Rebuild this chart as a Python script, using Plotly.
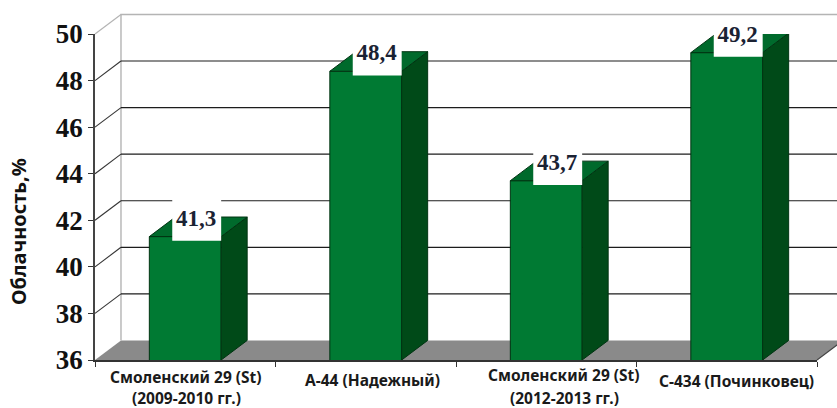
import plotly.graph_objects as go

# ---- data ----
categories = ["Смоленский 29 (St) (2009-2010 гг.)", "А-44 (Надежный)",
              "Смоленский 29 (St) (2012-2013 гг.)", "С-434 (Починковец)"]
category_lines = [["Смоленский 29 (St)", "(2009-2010 гг.)"], ["А-44 (Надежный)"],
                  ["Смоленский 29 (St)", "(2012-2013 гг.)"], ["С-434 (Починковец)"]]
values = [41.3, 48.4, 43.7, 49.2]
value_labels = ["41,3", "48,4", "43,7", "49,2"]
y_ticks = [36, 38, 40, 42, 44, 46, 48, 50]
y_title = "Облачность,%"

# ---- layout of the plotted box inside the 837x408 page (pixels) ----
W, H = 837, 408
PX_L, PX_R, PX_T, PX_B = 95, 817, 34, 360

# ---- style / projection ----
FRONT, TOP, SIDE, EDGE = "#007a33", "#006a2c", "#004a18", "#003412"
DX, DY = 0.144, 0.84        # oblique depth, in axis units
BAR_HALF = 0.199
xpos = list(range(len(values)))
X0, X1 = -0.5, 3.5
Y0, Y1 = y_ticks[0], y_ticks[-1]

# background axes fill the page and share the scale of the visible axes
sx = (PX_R - PX_L) / (X1 - X0)
sy = (PX_B - PX_T) / (Y1 - Y0)
BG_X = [X0 - PX_L / sx, X1 + (W - PX_R) / sx]
BG_Y = [Y0 - (H - PX_B) / sy, Y1 + PX_T / sy]

def poly(parts):
    xs, ys = [], []
    for p in parts:
        xs += [q[0] for q in p] + [p[0][0], None]
        ys += [q[1] for q in p] + [p[0][1], None]
    return xs, ys

def segs(parts):
    xs, ys = [], []
    for p in parts:
        xs += [q[0] for q in p] + [None]
        ys += [q[1] for q in p] + [None]
    return xs, ys

fig = go.Figure()

def fill(parts, color, line=None, axes=("x", "y")):
    xs, ys = poly(parts)
    fig.add_trace(go.Scatter(x=xs, y=ys, mode="lines", fill="toself", fillcolor=color,
                             line=dict(color=line or color, width=1 if line else 0),
                             cliponaxis=False, hoverinfo="skip", showlegend=False,
                             xaxis=axes[0], yaxis=axes[1]))

def lines(parts, color, width=1.2):
    xs, ys = segs(parts)
    fig.add_trace(go.Scatter(x=xs, y=ys, mode="lines", line=dict(color=color, width=width),
                             hoverinfo="skip", showlegend=False))

# floor
fill([[(X0, Y0), (X0 + DX, Y0 + DY), (X1 + DX, Y0 + DY), (X1, Y0)]], "#8a8a8a")
# back wall + left wall frame
lines([[(X0 + DX, Y0 + DY), (X0 + DX, Y1 + DY), (X1 + DX, Y1 + DY)]], "#b4b4b4", 1.4)
lines([[(X0, Y1), (X0 + DX, Y1 + DY)]], "#b4b4b4", 1.2)
# grid on the back wall and diagonals on the left wall
inner = y_ticks[1:-1]
lines([[(X0 + DX, v + DY), (X1 + DX, v + DY)] for v in inner], "#1c1c1c", 1.2)
lines([[(X0, v), (X0 + DX, v + DY)] for v in inner], "#333333", 1.1)
lines([[(X1, Y0), (X1 + DX, Y0 + DY)]], "#444444", 1.1)

# bars on the visible axes
ax = ("x2", "y2")
fig.add_trace(go.Bar(x=xpos, y=values, width=2 * BAR_HALF, xaxis="x2", yaxis="y2",
                     marker=dict(color=FRONT, line=dict(color=EDGE, width=1)), cliponaxis=False,
                     hovertext=categories, hoverinfo="text+y", showlegend=False))
fill([[(i + BAR_HALF, Y0), (i + BAR_HALF + DX, Y0 + DY), (i + BAR_HALF + DX, v + DY), (i + BAR_HALF, v)]
      for i, v in zip(xpos, values)], SIDE, EDGE, ax)
fill([[(i - BAR_HALF, v), (i - BAR_HALF + DX, v + DY), (i + BAR_HALF + DX, v + DY), (i + BAR_HALF, v)]
      for i, v in zip(xpos, values)], TOP, EDGE, ax)

# white label boxes and value labels
fill([[(i - 0.072, v - 0.18), (i - 0.072, v + 1.8), (i + BAR_HALF, v + 1.8), (i + BAR_HALF, v - 0.18)]
      for i, v in zip(xpos, values)], "#ffffff", None, ax)
fig.add_trace(go.Scatter(x=[i + 0.06 for i in xpos], y=[v + 0.72 for v in values], mode="text",
                         text=value_labels, cliponaxis=False, hoverinfo="skip", showlegend=False,
                         textfont=dict(family="Liberation Serif", size=23, color="#1a2233", weight=700),
                         xaxis="x2", yaxis="y2"))

# category labels, one annotation per line
line_pos = [(0, 1, [16.5, 37.5]), (1, 7, [20]), (2, 18, [15, 37.5]), (3, 10, [21])]
annos = []
for (i, xs, ysh), txt in zip(line_pos, category_lines):
    for s, t in zip(ysh, txt):
        annos.append(dict(x=i, y=Y0, xref="x2", yref="y2", text=t, showarrow=False,
                          xshift=xs, yshift=-s, yanchor="middle",
                          font=dict(family="Noto Sans", size=15.5, color="#1a1a1a", weight=700)))
annos.append(dict(xref="paper", yref="paper", x=18 / W, y=1 - 232 / H, text=y_title, textangle=-90,
                  xanchor="center", yanchor="middle", showarrow=False,
                  font=dict(family="Noto Sans", size=20, color="#111111", weight=700)))

fig.update_layout(
    width=W, height=H, autosize=False, paper_bgcolor="white", plot_bgcolor="rgba(0,0,0,0)",
    margin=dict(l=0, r=0, t=0, b=0), showlegend=False, annotations=annos,
    xaxis=dict(range=BG_X, domain=[0, 1], visible=False, automargin=False),
    yaxis=dict(range=BG_Y, domain=[0, 1], visible=False, automargin=False),
    xaxis2=dict(range=[X0, X1], domain=[PX_L / W, PX_R / W], anchor="y2", automargin=False,
                tickvals=[X0 + k for k in range(5)], ticktext=[""] * 5,
                ticks="outside", ticklen=5, tickcolor="#333333", showgrid=False, zeroline=False,
                showline=True, linecolor="#333333", linewidth=1.5),
    yaxis2=dict(range=[Y0, Y1], domain=[1 - PX_B / H, 1 - PX_T / H], anchor="x2", automargin=False,
                tickvals=y_ticks, ticktext=[str(v) for v in y_ticks],
                ticks="outside", ticklen=5, tickcolor="#333333", showgrid=False, zeroline=False,
                showline=True, linecolor="#444444", linewidth=1.5,
                tickfont=dict(family="Liberation Serif", size=27, color="#111111", weight=700)),
)
fig.write_html("out.html", config=dict(displayModeBar=False),
               post_script="document.body.style.margin='0';")
